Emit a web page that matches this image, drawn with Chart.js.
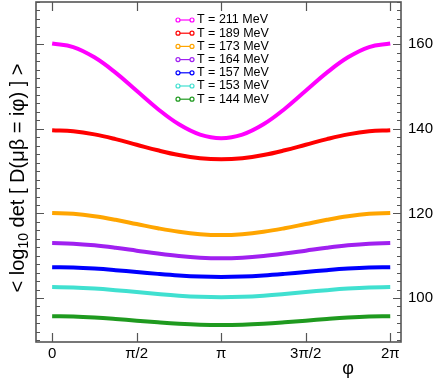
<!DOCTYPE html>
<html>
<head>
<meta charset="utf-8">
<script src="https://cdn.jsdelivr.net/npm/chart.js@4"></script>
<style>
  html, body { margin: 0; padding: 0; background: #fff; }
  #wrap { width: 436px; height: 380px; }
</style>
</head>
<body>
<div id="wrap"><canvas id="c"></canvas></div>
<script>
// phi grid: k * pi/8, k = 0..16
const phiSteps = [0, 1, 2, 3, 4, 5, 6, 7, 8, 9, 10, 11, 12, 13, 14, 15, 16];
const xTickLabels = ['0', 'π/2', 'π', '3π/2', '2π'];
const yTickLabels = [100, 120, 140, 160];

const temps = ['T = 211 MeV', 'T = 189 MeV', 'T = 173 MeV', 'T = 164 MeV', 'T = 157 MeV', 'T = 153 MeV', 'T = 144 MeV'];
const colors = ['#ff00ff', '#ff0000', '#ffa500', '#a020f0', '#0000ff', '#40e0d0', '#1f9a1f'];

const t211 = [160.2, 159.35, 156.92, 153.29, 149.0, 144.71, 141.08, 138.65, 137.8, 138.65, 141.08, 144.71, 149.0, 153.29, 156.92, 159.35, 160.2];
const t189 = [139.7, 139.44, 138.69, 137.57, 136.25, 134.93, 133.81, 133.06, 132.8, 133.06, 133.81, 134.93, 136.25, 137.57, 138.69, 139.44, 139.7];
const t173 = [120.1, 119.9, 119.34, 118.5, 117.5, 116.5, 115.66, 115.1, 114.9, 115.1, 115.66, 116.5, 117.5, 118.5, 119.34, 119.9, 120.1];
const t164 = [113.0, 112.86, 112.47, 111.89, 111.2, 110.51, 109.93, 109.54, 109.4, 109.54, 109.93, 110.51, 111.2, 111.89, 112.47, 112.86, 113.0];
const t157 = [107.3, 107.21, 106.96, 106.59, 106.15, 105.71, 105.34, 105.09, 105.0, 105.09, 105.34, 105.71, 106.15, 106.59, 106.96, 107.21, 107.3];
const t153 = [102.6, 102.51, 102.25, 101.86, 101.4, 100.94, 100.55, 100.29, 100.2, 100.29, 100.55, 100.94, 101.4, 101.86, 102.25, 102.51, 102.6];
const t144 = [95.7, 95.62, 95.39, 95.05, 94.65, 94.25, 93.91, 93.68, 93.6, 93.68, 93.91, 94.25, 94.65, 95.05, 95.39, 95.62, 95.7];
const series = [t211, t189, t173, t164, t157, t153, t144];

const pts = (vals) => vals.map((v, i) => ({ x: phiSteps[i] * Math.PI / 8, y: v }));

const datasets = [];
series.forEach((vals, i) => {
    datasets.push({
        label: temps[i],
        data: pts(vals),
        borderColor: colors[i],
        borderWidth: 4,
        pointRadius: 0,
        tension: 0.4,
        fill: false
    });
});
// light centre line on each band
series.forEach((vals) => {
    datasets.push({
        label: '',
        data: pts(vals),
        borderColor: 'rgba(255,255,255,0.55)',
        borderWidth: 1.2,
        pointRadius: 0,
        tension: 0.4,
        fill: false
    });
});

const FONT = '"Liberation Sans", Arial, sans-serif';

const decor = {
    id: 'decor',
    afterDatasetsDraw(chart) {
        const { ctx, chartArea: a, scales } = chart;
        const xs = scales.x, ys = scales.y;
        ctx.save();
        ctx.strokeStyle = '#555';
        ctx.lineWidth = 1.2;
        // y ticks, both sides, pointing in
        for (let v = 90; v <= 170; v += 2) {
            const y = Math.round(ys.getPixelForValue(v)) + 0.5;
            const len = v % 20 === 0 ? 8 : 4;
            ctx.beginPath();
            ctx.moveTo(a.left, y); ctx.lineTo(a.left + len, y);
            ctx.moveTo(a.right, y); ctx.lineTo(a.right - len, y);
            ctx.stroke();
        }
        // x ticks top and bottom
        for (let k = 0; k <= 4; k++) {
            const x = Math.round(xs.getPixelForValue(k * Math.PI / 2)) + 0.5;
            ctx.beginPath();
            ctx.moveTo(x, a.bottom); ctx.lineTo(x, a.bottom - 9);
            ctx.moveTo(x, a.top); ctx.lineTo(x, a.top + 9);
            ctx.stroke();
        }
        // frame
        ctx.lineWidth = 1.6;
        ctx.strokeRect(a.left, a.top, a.right - a.left, a.bottom - a.top);

        // legend
        ctx.font = '12.5px ' + FONT;
        ctx.textBaseline = 'middle';
        ctx.fillStyle = '#000';
        temps.forEach((t, i) => {
            const y = 20 + i * 13.2;
            ctx.strokeStyle = colors[i];
            ctx.lineWidth = 1.2;
            ctx.beginPath();
            ctx.moveTo(178, y); ctx.lineTo(192, y);
            ctx.stroke();
            [178, 192].forEach((cx) => {
                ctx.beginPath();
                ctx.arc(cx, y, 2, 0, Math.PI * 2);
                ctx.fillStyle = '#fff';
                ctx.fill();
                ctx.stroke();
            });
            ctx.fillStyle = '#000';
            ctx.fillText(t, 197, y);
        });

        // y title with subscript
        ctx.translate(18, 178);
        ctx.rotate(-Math.PI / 2);
        const big = '20px ' + FONT, small = '14px ' + FONT;
        const p1 = '< log', p2 = '10', p3 = ' det [ D(μβ = iφ) ] >';
        ctx.font = big; const w1 = ctx.measureText(p1).width, w3 = ctx.measureText(p3).width;
        ctx.font = small; const w2 = ctx.measureText(p2).width;
        let x0 = -(w1 + w2 + w3) / 2;
        ctx.fillStyle = '#000';
        ctx.textBaseline = 'middle';
        ctx.textAlign = 'left';
        ctx.font = big; ctx.fillText(p1, x0, 0); x0 += w1;
        ctx.font = small; ctx.fillText(p2, x0, 6); x0 += w2;
        ctx.font = big; ctx.fillText(p3, x0, 0);
        ctx.restore();

        // x title
        ctx.save();
        ctx.font = '18px ' + FONT;
        ctx.fillStyle = '#000';
        ctx.textAlign = 'center';
        ctx.textBaseline = 'middle';
        ctx.fillText('φ', 348, 369);
        ctx.restore();
    }
};

new Chart(document.getElementById('c'), {
    type: 'line',
    data: { datasets: datasets },
    options: {
        responsive: true,
        maintainAspectRatio: false,
        animation: false,
        layout: { autoPadding: false, padding: { left: 36, top: 2, right: 0, bottom: 0 } },
        plugins: { legend: { display: false }, tooltip: { enabled: false } },
        scales: {
            x: {
                type: 'linear',
                min: -0.30,
                max: 2 * Math.PI + 0.2,
                grid: { display: false, drawTicks: false },
                border: { display: false },
                afterBuildTicks: (axis) => {
                    axis.ticks = xTickLabels.map((_, k) => ({ value: k * Math.PI / 2 }));
                },
                ticks: {
                    autoSkip: false,
                    maxRotation: 0,
                    padding: 3,
                    color: '#000',
                    font: { family: FONT, size: 15 },
                    callback: (v, i) => xTickLabels[i]
                },
                afterFit: (axis) => {
                    axis.height = 38;
                    axis.paddingLeft = 0; axis.paddingRight = 0;
                }
            },
            y: {
                type: 'linear',
                position: 'right',
                min: 89.6,
                max: 170,
                grid: { display: false, drawTicks: false },
                border: { display: false },
                afterBuildTicks: (axis) => {
                    axis.ticks = yTickLabels.map((v) => ({ value: v }));
                },
                ticks: {
                    padding: 7,
                    color: '#000',
                    font: { family: FONT, size: 15 },
                    callback: (v) => String(v)
                },
                afterFit: (axis) => {
                    axis.width = 35;
                    axis.paddingTop = 0; axis.paddingBottom = 0;
                }
            }
        }
    },
    plugins: [decor]
});
</script>
</body>
</html>
